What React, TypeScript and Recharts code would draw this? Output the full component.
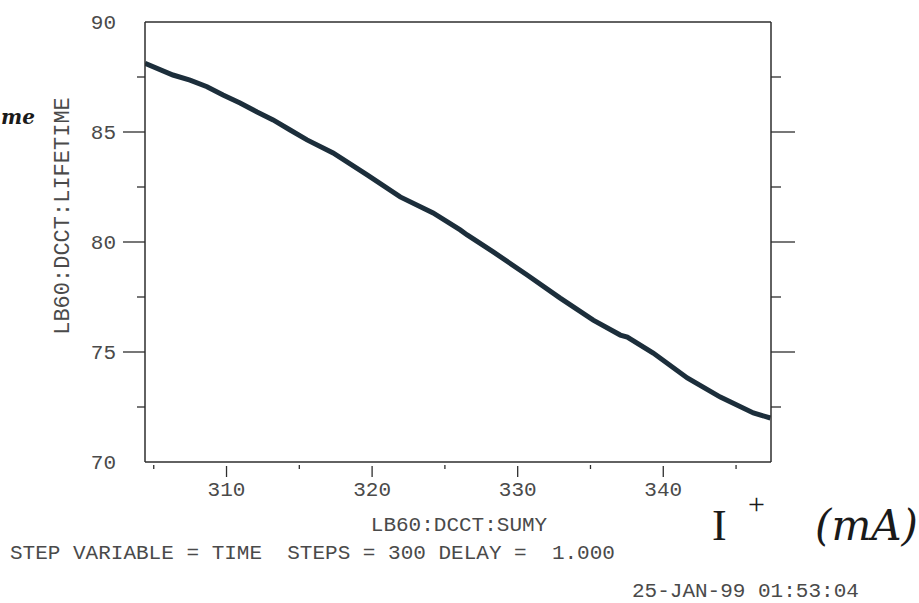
import React from 'react';
import { ComposedChart, Line, XAxis, YAxis } from 'recharts';

// LB60:DCCT:SUMY (mA)
const currentMA = [
  304.4, 306.32, 307.49, 308.66, 309.76, 310.93, 312.1, 313.2, 314.37, 315.53,
  317.32, 319.66, 321.93, 324.19, 326.05, 326.53, 328.32, 330.65, 332.92, 335.19,
  337.05, 337.53, 339.31, 341.65, 343.92, 346.19, 347.36,
];
// LB60:DCCT:LIFETIME
const lifetime = [
  88.12, 87.59, 87.36, 87.06, 86.68, 86.32, 85.91, 85.55, 85.09, 84.64,
  84.05, 83.05, 82.05, 81.32, 80.55, 80.32, 79.55, 78.5, 77.45, 76.45,
  75.77, 75.68, 74.95, 73.82, 72.95, 72.23, 72.0,
];

const xTicks = [305, 310, 315, 320, 325, 330, 335, 340, 345];
const xLabelTicks = [310, 320, 330, 340];
const yTicks = [70, 72.5, 75, 77.5, 80, 82.5, 85, 87.5, 90];
const yLabelTicks = [70, 75, 80, 85, 90];

const xDomain = [304.4, 347.4];
const yDomain = [70, 90];

const rows = currentMA.map((c, i) => ({ current: c, lifetime: lifetime[i] }));

const FONT = '"Liberation Mono", "DejaVu Sans Mono", monospace';
const TEXT = '#4a4a4a';
const AXIS = '#2e2e2e';
const CURVE = '#1c2e3b';

const LeftTick = (props: any) => {
  const { x, y, payload } = props;
  const v = payload.value;
  const major = v % 5 === 0;
  const edge = v === 70 || v === 90;
  return (
    <g>
      {!edge && (
        <line x1={x} x2={x - (major ? 22 : 8)} y1={y} y2={y} stroke={AXIS} strokeWidth={1.3} />
      )}
      {yLabelTicks.includes(v) && (
        <text x={x - 29} y={y + 7} textAnchor="end" fontFamily={FONT} fontSize={21} fill={TEXT}>
          {v}
        </text>
      )}
    </g>
  );
};

const RightTick = (props: any) => {
  const { x, y, payload } = props;
  const v = payload.value;
  const major = v % 5 === 0;
  const edge = v === 70 || v === 90;
  if (edge) return <g />;
  return <line x1={x} x2={x + (major ? 24 : 10)} y1={y} y2={y} stroke={AXIS} strokeWidth={1.3} />;
};

const BottomTick = (props: any) => {
  const { x, y, payload } = props;
  const v = payload.value;
  const major = v % 10 === 0;
  return (
    <g>
      <line x1={x} x2={x} y1={y + (major ? 4 : 3)} y2={y + (major ? 15 : 7)} stroke={AXIS} strokeWidth={1.3} />
      {xLabelTicks.includes(v) && (
        <text x={x} y={y + 34} textAnchor="middle" fontFamily={FONT} fontSize={21} fill={TEXT}>
          {v}
        </text>
      )}
    </g>
  );
};

const TopTick = (props: any) => {
  const { x, y, payload } = props;
  const v = payload.value;
  const major = v % 10 === 0;
  return <line x1={x} x2={x} y1={y} y2={y - (major ? 16 : 6)} stroke={AXIS} strokeWidth={1.3} />;
};

export default function App() {
  return (
    <div style={{ position: 'absolute', left: 0, top: 0, width: 919, height: 603, background: '#fff' }}>
      <ComposedChart width={919} height={603} data={rows} margin={{ top: 0, right: 0, bottom: 0, left: 0 }}>
        <XAxis
          xAxisId="bottom"
          orientation="bottom"
          type="number"
          dataKey="current"
          domain={xDomain}
          ticks={xTicks}
          interval={0}
          allowDataOverflow
          height={141}
          tickSize={0}
          tickMargin={0}
          tickLine={false}
          axisLine={{ stroke: AXIS, strokeWidth: 1.5 }}
          tick={<BottomTick />}
        />
        <XAxis
          xAxisId="top"
          orientation="top"
          type="number"
          domain={xDomain}
          ticks={xTicks}
          interval={0}
          allowDataOverflow
          height={22}
          tickSize={0}
          tickMargin={0}
          tickLine={false}
          axisLine={{ stroke: AXIS, strokeWidth: 1.5 }}
          tick={<TopTick />}
        />
        <YAxis
          yAxisId="left"
          orientation="left"
          type="number"
          domain={yDomain}
          ticks={yTicks}
          interval={0}
          allowDataOverflow
          width={145}
          tickSize={0}
          tickMargin={0}
          tickLine={false}
          axisLine={{ stroke: AXIS, strokeWidth: 1.5 }}
          tick={<LeftTick />}
        />
        <YAxis
          yAxisId="right"
          orientation="right"
          type="number"
          domain={yDomain}
          ticks={yTicks}
          interval={0}
          allowDataOverflow
          width={148}
          tickSize={0}
          tickMargin={0}
          tickLine={false}
          axisLine={{ stroke: AXIS, strokeWidth: 1.5 }}
          tick={<RightTick />}
        />
        <Line
          xAxisId="bottom"
          yAxisId="left"
          type="linear"
          dataKey="lifetime"
          stroke={CURVE}
          strokeWidth={5}
          dot={false}
          isAnimationActive={false}
        />
      </ComposedChart>
      <svg
        width={919}
        height={603}
        style={{ position: 'absolute', left: 0, top: 0, pointerEvents: 'none' }}
      >
        <text
          x={63}
          y={216}
          transform="rotate(-90 63 216)"
          textAnchor="middle"
          dominantBaseline="central"
          fontFamily={FONT}
          fontSize={22}
          fill={TEXT}
        >
          LB60:DCCT:LIFETIME
        </text>
        <text x={459} y={531} textAnchor="middle" fontFamily={FONT} fontSize={21} fill={TEXT}>
          LB60:DCCT:SUMY
        </text>
        <text x={10} y={559} fontFamily={FONT} fontSize={21} fill={TEXT} style={{ whiteSpace: 'pre' }}>
          {'STEP VARIABLE = TIME  STEPS = 300 DELAY =  1.000'}
        </text>
        <text x={632} y={597} fontFamily={FONT} fontSize={21} fill={TEXT}>
          25-JAN-99 01:53:04
        </text>
        <text x={1} y={124} fontFamily='"DejaVu Serif", serif' fontStyle="italic" fontWeight="bold" fontSize={20} fill="#1a1a1a">
          me
        </text>
        <text x={712} y={540} fontFamily='"Liberation Serif", serif' fontSize={44} fill="#1a1a1a">
          I
        </text>
        <text x={748} y={514} fontFamily='"Liberation Serif", serif' fontSize={30} fill="#1a1a1a">
          +
        </text>
        <text x={815} y={540} fontFamily='"DejaVu Serif", serif' fontStyle="italic" fontSize={42} fill="#1a1a1a">
          (mA)
        </text>
      </svg>
    </div>
  );
}
